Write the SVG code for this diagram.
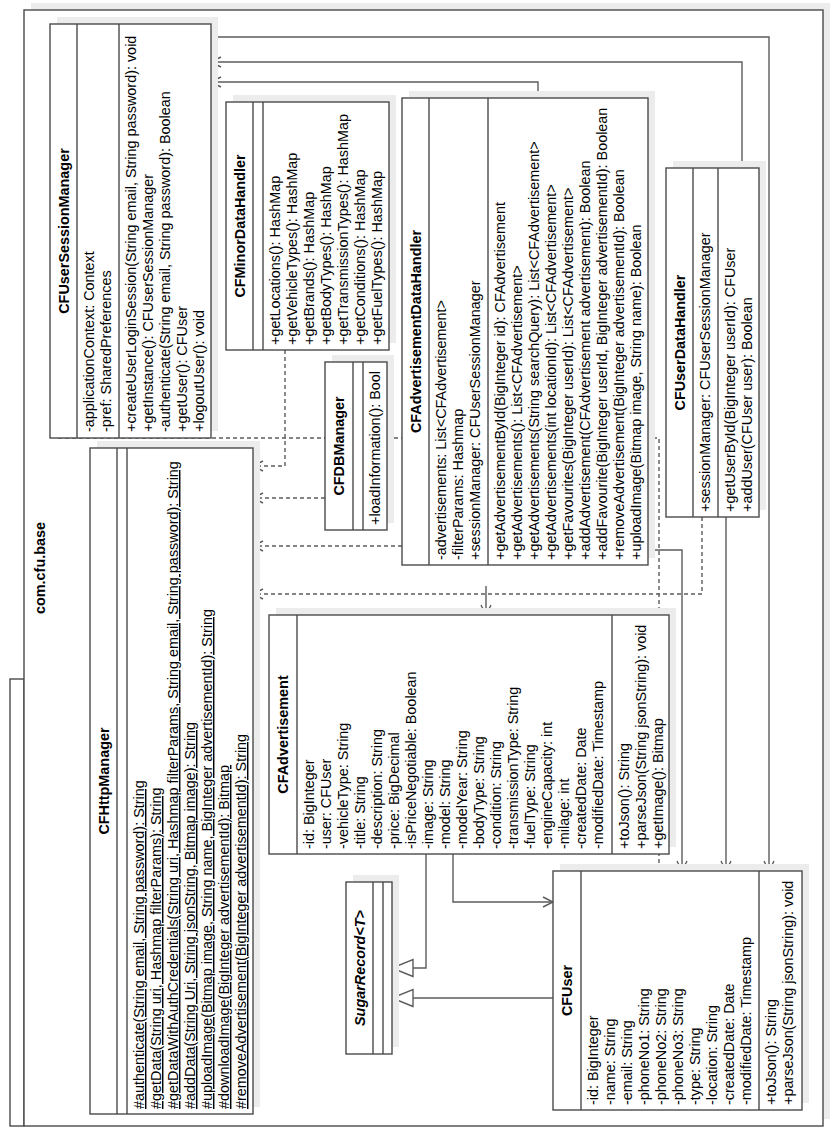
<svg xmlns="http://www.w3.org/2000/svg" width="832" height="1136" viewBox="0 0 832 1136">
<defs>
<style>
.box{fill:#fff;stroke:#4a4a4a;stroke-width:1.4}
.sh{fill:#ececec}
.sep{stroke:#4a4a4a;stroke-width:1.4}
text{font-family:"Liberation Sans",Arial,sans-serif;font-size:14.4px;fill:#000}
.t{font-weight:bold;text-anchor:middle}
.i{font-style:italic}
.u{text-decoration:underline}
.c{fill:none;stroke:#5c5c5c;stroke-width:1.4}
.d{stroke-dasharray:4,3}
</style>
<marker id="a" markerUnits="userSpaceOnUse" markerWidth="12" markerHeight="12" refX="10" refY="5" orient="auto" overflow="visible"><path d="M0,0 L10,5 L0,10" fill="none" stroke="#5c5c5c" stroke-width="1.4"/></marker>
<marker id="g" markerUnits="userSpaceOnUse" markerWidth="22" markerHeight="18" refX="21" refY="8.5" orient="auto" overflow="visible"><path d="M0,0 L21,8.5 L0,17 Z" fill="#fff" stroke="#5c5c5c" stroke-width="1.4"/></marker>
</defs>
<rect width="832" height="1136" fill="#fff"/>
<g transform="translate(0,1136) rotate(-90)">
<g id="package">
<rect class="sh" x="17" y="31" width="1116" height="799"/>
<rect class="box" x="10" y="10" width="447" height="14"/>
<rect class="box" x="10" y="24" width="1116" height="799"/>
<text class="t" x="568" y="45">com.cfu.base</text>
</g>
<g id="connectors">
<path class="c d" d="M698,58 V659 H90" marker-end="url(#a)"/>
<path class="c d" d="M786,285 H670 V253" marker-end="url(#a)"/>
<path class="c d" d="M638,325 V253" marker-end="url(#a)"/>
<path class="c d" d="M590,402 V253" marker-end="url(#a)"/>
<path class="c d" d="M619,702 H542 V253" marker-end="url(#a)"/>
<path class="c" d="M550,486 H521" marker-end="url(#a)"/>
<path class="c" d="M1099,211 V769 H265" marker-end="url(#a)"/>
<path class="c" d="M968,742 H1074 V211" marker-end="url(#a)"/>
<path class="c" d="M1038,538 H1054 V211" marker-end="url(#a)"/>
<path class="c" d="M619,726 H265" marker-end="url(#a)"/>
<path class="c" d="M586,648 V682 H265" marker-end="url(#a)"/>
<path class="c" d="M282,453 H234 V553" marker-end="url(#a)"/>
<path class="c" d="M282,426 H168 V392" marker-end="url(#g)"/>
<path class="c" d="M138,553 V392" marker-end="url(#g)"/>
</g>
<g id="CFUserSessionManager">
<rect class="sh" x="705" y="57" width="414" height="161"/>
<rect class="box" x="698" y="50" width="414" height="161"/>
<line class="sep" x1="698" y1="77" x2="1112" y2="77"/>
<line class="sep" x1="698" y1="119" x2="1112" y2="119"/>
<text class="t" x="905" y="69">CFUserSessionManager</text>
<text x="704" y="94">-applicationContext: Context</text>
<text x="704" y="111">-pref: SharedPreferences</text>
<text x="704" y="136">+createUserLoginSession(String email, String password): void</text>
<text x="704" y="153">+getInstance(): CFUserSessionManager</text>
<text x="704" y="170">-authenticate(String email, String password): Boolean</text>
<text x="704" y="187">+getUser(): CFUser</text>
<text x="704" y="204">+logoutUser(): void</text>
</g>
<g id="CFMinorDataHandler">
<rect class="sh" x="793" y="233" width="248" height="163"/>
<rect class="box" x="786" y="226" width="248" height="163"/>
<line class="sep" x1="786" y1="253" x2="1034" y2="253"/>
<line class="sep" x1="786" y1="263" x2="1034" y2="263"/>
<text class="t" x="910" y="245">CFMinorDataHandler</text>
<text x="791" y="280">+getLocations(): HashMap</text>
<text x="791" y="297">+getVehicleTypes(): HashMap</text>
<text x="791" y="314">+getBrands(): HashMap</text>
<text x="791" y="331">+getBodyTypes(): HashMap</text>
<text x="791" y="348">+getTransmissionTypes(): HashMap</text>
<text x="791" y="365">+getConditions(): HashMap</text>
<text x="791" y="382">+getFuelTypes(): HashMap</text>
</g>
<g id="CFDBManager">
<rect class="sh" x="613" y="332" width="168" height="62"/>
<rect class="box" x="606" y="325" width="168" height="62"/>
<line class="sep" x1="606" y1="353" x2="774" y2="353"/>
<line class="sep" x1="606" y1="363" x2="774" y2="363"/>
<text class="t" x="690" y="344">CFDBManager</text>
<text x="611" y="380">+loadInformation(): Bool</text>
</g>
<g id="CFAdvertisementDataHandler">
<rect class="sh" x="578" y="409" width="467" height="246"/>
<rect class="box" x="571" y="402" width="467" height="246"/>
<line class="sep" x1="571" y1="429" x2="1038" y2="429"/>
<line class="sep" x1="571" y1="488" x2="1038" y2="488"/>
<text class="t" x="804.5" y="421">CFAdvertisementDataHandler</text>
<text x="576" y="446">-advertisements: List&lt;CFAdvertisement&gt;</text>
<text x="576" y="463">-filterParams: Hashmap</text>
<text x="576" y="480">+sessionManager: CFUserSessionManager</text>
<text x="576" y="505">+getAdvertisementById(BigInteger id): CFAdvertisement</text>
<text x="576" y="522">+getAdvertisements(): List&lt;CFAdvertisement&gt;</text>
<text x="576" y="539">+getAdvertisements(String searchQuery): List&lt;CFAdvertisement&gt;</text>
<text x="576" y="556">+getAdvertisements(int locationId): List&lt;CFAdvertisement&gt;</text>
<text x="576" y="573">+getFavourites(BigInteger userId): List&lt;CFAdvertisement&gt;</text>
<text x="576" y="590">+addAdvertisement(CFAdvertisement advertisement): Boolean</text>
<text x="576" y="607">+addFavourite(BigInteger userId, BigInteger advertisementId): Boolean</text>
<text x="576" y="624">+removeAdvertisement(BigInteger advertisementId): Boolean</text>
<text x="576" y="641">+uploadImage(Bitmap image, String name): Boolean</text>
</g>
<g id="CFUserDataHandler">
<rect class="sh" x="626" y="673" width="349" height="93"/>
<rect class="box" x="619" y="666" width="349" height="93"/>
<line class="sep" x1="619" y1="693" x2="968" y2="693"/>
<line class="sep" x1="619" y1="718" x2="968" y2="718"/>
<text class="t" x="793.5" y="685">CFUserDataHandler</text>
<text x="624" y="710">+sessionManager: CFUserSessionManager</text>
<text x="624" y="735">+getUserById(BigInteger userId): CFUser</text>
<text x="624" y="752">+addUser(CFUser user): Boolean</text>
</g>
<g id="CFHttpManager">
<rect class="sh" x="29" y="97" width="666" height="163"/>
<rect class="box" x="22" y="90" width="666" height="163"/>
<line class="sep" x1="22" y1="117" x2="688" y2="117"/>
<line class="sep" x1="22" y1="127" x2="688" y2="127"/>
<text class="t" x="355" y="109">CFHttpManager</text>
<text class="u" x="27" y="144">#authenticate(String email, String password): String</text>
<text class="u" x="27" y="161">#getData(String uri, Hashmap filterParams): String</text>
<text class="u" x="27" y="178">#getDataWithAuthCredentials(String uri, Hashmap filterParams, String email, String password): String</text>
<text class="u" x="27" y="195">#addData(String Uri, String jsonString, Bitmap image): String</text>
<text class="u" x="27" y="212">#uploadImage(Bitmap image, String name, BigInteger advertisementId): String</text>
<text class="u" x="27" y="229">#downloadImage(BigInteger advertisementId): Bitmap</text>
<text class="u" x="27" y="246">#removeAdvertisement(BigInteger advertisementId): String</text>
</g>
<g id="CFAdvertisement">
<rect class="sh" x="289" y="276" width="239" height="400"/>
<rect class="box" x="282" y="269" width="239" height="400"/>
<line class="sep" x1="282" y1="297" x2="521" y2="297"/>
<line class="sep" x1="282" y1="612" x2="521" y2="612"/>
<text class="t" x="401.5" y="288">CFAdvertisement</text>
<text x="287" y="314">-id: BigInteger</text>
<text x="287" y="331">-user: CFUser</text>
<text x="287" y="348">-vehicleType: String</text>
<text x="287" y="365">-title: String</text>
<text x="287" y="382">-description: String</text>
<text x="287" y="399">-price: BigDecimal</text>
<text x="287" y="416">-isPriceNegotiable: Boolean</text>
<text x="287" y="433">-image: String</text>
<text x="287" y="450">-model: String</text>
<text x="287" y="467">-modelYear: String</text>
<text x="287" y="484">-bodyType: String</text>
<text x="287" y="501">-condition: String</text>
<text x="287" y="518">-transmissionType: String</text>
<text x="287" y="535">-fuelType: String</text>
<text x="287" y="552">-engineCapacity: int</text>
<text x="287" y="569">-milage: int</text>
<text x="287" y="586">-createdDate: Date</text>
<text x="287" y="603">-modifiedDate: Timestamp</text>
<text x="287" y="629">+toJson(): String</text>
<text x="287" y="646">+parseJson(String jsonString): void</text>
<text x="287" y="663">+getImage(): Bitmap</text>
</g>
<g id="SugarRecord">
<rect class="sh" x="89" y="353" width="172" height="46"/>
<rect class="box" x="82" y="346" width="172" height="46"/>
<line class="sep" x1="82" y1="373" x2="254" y2="373"/>
<line class="sep" x1="82" y1="383" x2="254" y2="383"/>
<text class="t i" x="168" y="365">SugarRecord&lt;T&gt;</text>
</g>
<g id="CFUser">
<rect class="sh" x="33" y="560" width="239" height="249"/>
<rect class="box" x="26" y="553" width="239" height="249"/>
<line class="sep" x1="26" y1="581" x2="265" y2="581"/>
<line class="sep" x1="26" y1="759" x2="265" y2="759"/>
<text class="t" x="145.5" y="572">CFUser</text>
<text x="31" y="598">-id: BigInteger</text>
<text x="31" y="615">-name: String</text>
<text x="31" y="632">-email: String</text>
<text x="31" y="649">-phoneNo1: String</text>
<text x="31" y="666">-phoneNo2: String</text>
<text x="31" y="683">-phoneNo3: String</text>
<text x="31" y="700">-type: String</text>
<text x="31" y="717">-location: String</text>
<text x="31" y="734">-createdDate: Date</text>
<text x="31" y="751">-modifiedDate: Timestamp</text>
<text x="31" y="776">+toJson(): String</text>
<text x="31" y="793">+parseJson(String jsonString): void</text>
</g>
</g>
</svg>
